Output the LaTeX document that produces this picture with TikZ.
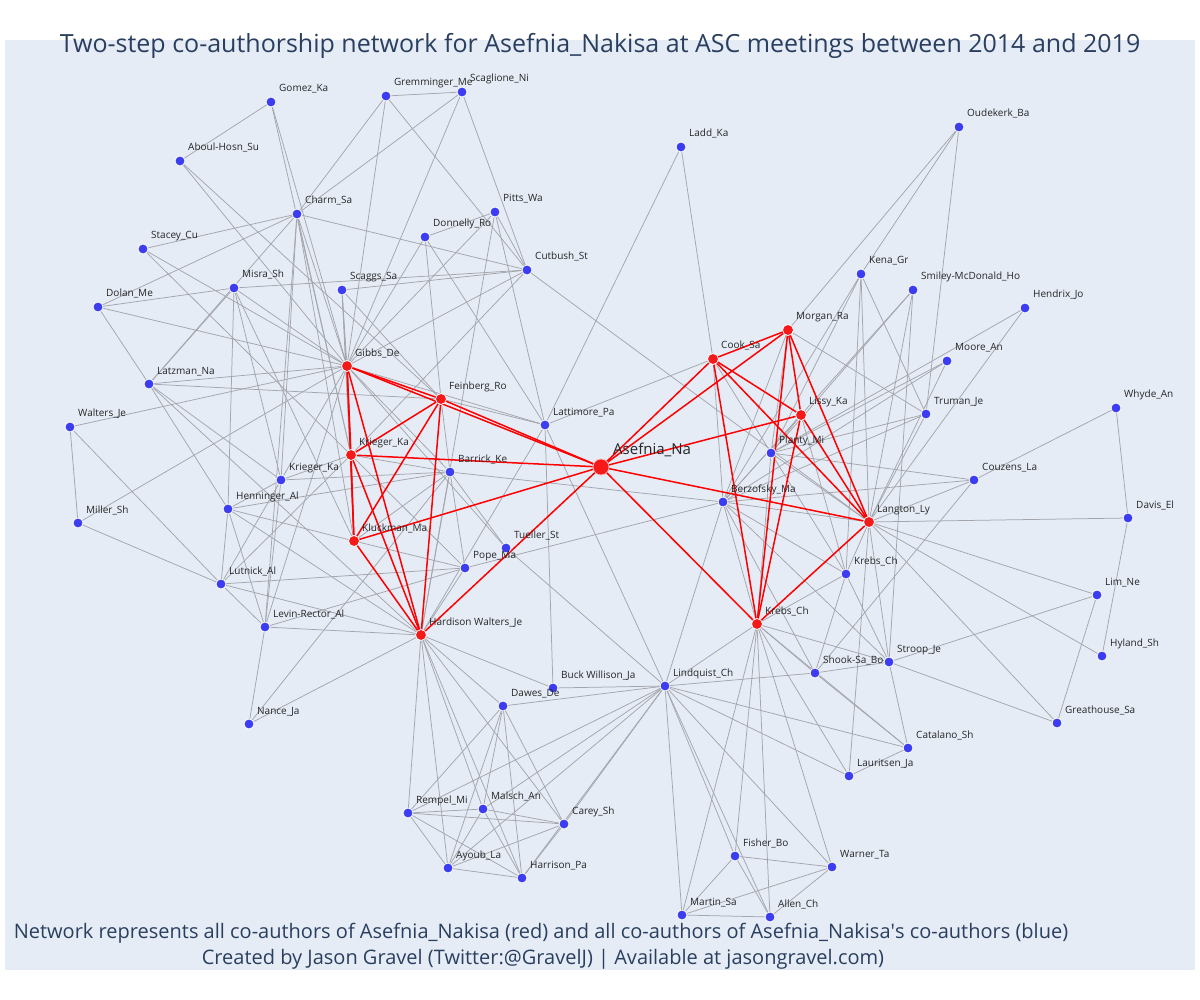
\documentclass[tikz,border=0pt]{standalone}
\usepackage{fontspec}
\setmainfont{Open Sans}
\pgfdeclarelayer{bglayer}
\pgfdeclarelayer{edgelayer}
\pgfsetlayers{bglayer,edgelayer,main}
\definecolor{plotbg}{HTML}{E5ECF6}
\definecolor{titlec}{HTML}{2A3F5F}
\definecolor{bluen}{RGB}{60,60,240}
\definecolor{redn}{RGB}{245,25,25}
\definecolor{edgec}{RGB}{165,165,172}
\tikzset{
  bnode/.style={circle,fill=bluen,draw=white,line width=0.8pt,minimum size=10pt,inner sep=0pt},
  rnode/.style={circle,fill=redn,draw=white,line width=0.8pt,minimum size=11pt,inner sep=0pt},
  bignode/.style={circle,fill=redn,draw=white!70!red,line width=0.8pt,minimum size=16pt,inner sep=0pt},
  lbl/.style={anchor=base west,inner sep=0pt,font=\fontsize{10}{12}\selectfont,text=black!85},
  gedge/.style={draw=edgec,line width=0.75pt},
  redge/.style={draw=red,line width=1.5pt},
}
\begin{document}
\begin{tikzpicture}[x=1pt,y=-1pt]
\useasboundingbox (0,0) rectangle (1200,1000);
\begin{pgfonlayer}{bglayer}
\fill[plotbg] (5,40) rectangle (1195,970);
\end{pgfonlayer}
% red nodes
\node[bignode] (A) at (601,467) {};
\node[lbl,font=\fontsize{15}{18}\selectfont] (A-l) at (613,454) {Asefnia\_Na};
\foreach \n/\x/\y/\t in {
 gib/347/366/Gibbs\_De, fei/441/399/Feinberg\_Ro, krr/351/455/Krieger\_Ka,
 klu/354/541/Kluckman\_Ma, har/421/635/Hardison Walters\_Je,
 coo/713/359/Cook\_Sa, mor/788/330/Morgan\_Ra, lis/801/415/Lissy\_Ka,
 lan/869/522/Langton\_Ly, kbr/757/624/Krebs\_Ch}{
 \node[rnode] (\n) at (\x,\y) {};
 \node[lbl] (\n-l) at ([shift={(8,-10)}]\n.center) {\t};
}
% blue nodes
\foreach \n/\x/\y/\t in {
 gom/271/102/Gomez\_Ka, gre/386/96/Gremminger\_Me, scg/462/92/Scaglione\_Ni,
 abo/180/161/Aboul-Hosn\_Su, cha/297/214/Charm\_Sa, pit/495/212/Pitts\_Wa,
 don/425/237/Donnelly\_Ro, sta/143/249/Stacey\_Cu, cut/527/270/Cutbush\_St,
 mis/234/288/Misra\_Sh, sgs/342/290/Scaggs\_Sa, dol/98/307/Dolan\_Me,
 ltz/149/384/Latzman\_Na, wal/70/427/Walters\_Je, ltt/545/425/Lattimore\_Pa,
 bar/450/472/Barrick\_Ke, kbl/281/480/Krieger\_Ka, hen/228/509/Henninger\_Al,
 mil/78/523/Miller\_Sh, tue/506/548/Tueller\_St, pop/465/568/Pope\_Ma,
 lut/221/584/Lutnick\_Al, lev/265/627/Levin-Rector\_Al, nan/249/724/Nance\_Ja,
 buc/553/688/Buck Willison\_Ja, daw/503/706/Dawes\_De, lin/665/686/Lindquist\_Ch,
 rem/408/813/Rempel\_Mi, mal/483/809/Malsch\_An, car/564/824/Carey\_Sh,
 ayo/448/868/Ayoub\_La, hrr/522/878/Harrison\_Pa, lad/681/147/Ladd\_Ka,
 oud/959/127/Oudekerk\_Ba, ken/861/274/Kena\_Gr, smi/913/290/Smiley-McDonald\_Ho,
 hdx/1025/308/Hendrix\_Jo, moo/947/361/Moore\_An, tru/926/414/Truman\_Je,
 pla/771/453/Planty\_Mi, ber/723/502/Berzofsky\_Ma, cou/974/480/Couzens\_La,
 why/1116/408/Whyde\_An, dav/1128/518/Davis\_El, kre/846/574/Krebs\_Ch,
 lim/1097/595/Lim\_Ne, hyl/1102/656/Hyland\_Sh, str/889/662/Stroop\_Je,
 sho/815/673/Shook-Sa\_Bo, grh/1057/723/Greathouse\_Sa, cat/908/748/Catalano\_Sh,
 lau/849/776/Lauritsen\_Ja, fis/735/856/Fisher\_Bo, war/832/867/Warner\_Ta,
 mar/682/915/Martin\_Sa, all/770/917/Allen\_Ch}{
 \node[bnode] (\n) at (\x,\y) {};
 \node[lbl] (\n-l) at ([shift={(8,-10)}]\n.center) {\t};
}
\begin{pgfonlayer}{edgelayer}
\foreach \a/\b in {
 gom/abo, gom/gib, gom/krr, gre/scg, gre/cha, gre/gib, gre/cut,
 scg/cha, scg/cut, scg/gib, abo/fei, abo/gib,
 cha/sta, cha/dol, cha/ltz, cha/cut, cha/lev, cha/gib, cha/krr, cha/kbl, cha/klu,
 pit/don, pit/cut, pit/har, pit/ltt, pit/gib, don/gib, don/fei, don/ltt,
 cut/sgs, cut/gib, cut/krr, cut/lan, cut/mis, sta/gib, sta/krr,
 mis/dol, mis/ltz, mis/gib, mis/hen, mis/kbl, mis/klu,
 sgs/gib, sgs/krr, sgs/klu, sgs/fei, dol/gib, dol/ltz,
 ltz/gib, ltz/fei, ltz/hen, ltz/kbl, ltz/har,
 wal/mil, wal/lut, wal/gib, mil/lut, mil/gib,
 hen/bar, hen/klu, hen/lut, hen/lev, hen/har, hen/kbl,
 kbl/gib, kbl/krr, kbl/bar, kbl/lut, kbl/lev,
 lut/pop, lut/lev, lut/har, lut/krr, lev/har, lev/nan, lev/pop, lev/gib,
 nan/har, nan/bar, bar/krr, bar/gib, bar/fei, bar/klu, bar/pop, bar/har, bar/tue, bar/ber,
 pop/klu, pop/krr, pop/har, pop/ber, tue/lin, tue/gib,
 ltt/lad, ltt/gib, ltt/fei, ltt/coo, ltt/buc, ltt/lin, ltt/har,
 lad/coo, buc/lin, buc/har, daw/har, daw/lin,
 rem/har, rem/daw, rem/lin, mal/har, mal/daw, mal/lin, car/har, car/daw, car/lin,
 ayo/har, ayo/daw, ayo/lin, hrr/har, hrr/daw, hrr/lin,
 rem/mal, rem/car, rem/ayo, rem/hrr, mal/car, mal/ayo, mal/hrr, car/ayo, car/hrr, ayo/hrr,
 fis/lin, fis/kbr, war/lin, war/kbr, mar/lin, mar/kbr, all/lin, all/kbr,
 fis/war, fis/mar, fis/all, war/mar, war/all, mar/all,
 oud/mor, oud/tru, oud/ken, ken/pla, ken/ber, ken/lan, ken/tru, ken/kre,
 smi/pla, smi/ber, smi/lan, smi/str, hdx/pla, hdx/lan, moo/pla, moo/ber, moo/lan,
 tru/mor, tru/pla, tru/ber, tru/lan,
 pla/lis, pla/coo, pla/mor, pla/lan, pla/kbr, pla/kre, pla/cou,
 ber/coo, ber/lis, ber/lan, ber/kbr, ber/kre, ber/cou, ber/str, ber/sho, ber/lin, ber/mor,
 cou/lan, cou/why, cou/sho, why/dav, dav/lan, dav/hyl,
 lim/lan, lim/grh, lim/str, hyl/lan, grh/lan, grh/str,
 kre/lan, kre/str, kre/sho, kre/kbr, kre/lis,
 sho/lin, sho/str, sho/kbr, sho/cat, str/lan, str/kbr, str/cat,
 cat/kbr, cat/lau, cat/lin, lau/kbr, lau/lin, lau/lan, lin/kbr}{
 \draw[gedge] (\a.center) -- (\b.center);
}
\foreach \a/\b in {
 A/gib, A/fei, A/krr, A/klu, A/har, A/coo, A/mor, A/lis, A/lan, A/kbr,
 gib/fei, gib/krr, gib/klu, gib/har, fei/krr, fei/klu, fei/har, krr/klu, krr/har, klu/har,
 coo/mor, coo/lis, coo/lan, coo/kbr, mor/lis, mor/lan, mor/kbr, lis/lan, lis/kbr, lan/kbr}{
 \draw[redge] (\a.center) -- (\b.center);
}
\end{pgfonlayer}
\node[font=\fontsize{25}{29}\selectfont,text=titlec,anchor=base] (title) at (600,53) {Two-step co-authorship network for Asefnia\_Nakisa at ASC meetings between 2014 and 2019};
\node[font=\fontsize{20}{24}\selectfont,text=titlec,anchor=base] (foot1) at (541,938) {Network represents all co-authors of Asefnia\_Nakisa (red) and all co-authors of Asefnia\_Nakisa\textquotesingle s co-authors (blue)};
\node[font=\fontsize{20}{24}\selectfont,text=titlec,anchor=base] (foot2) at (543,964) {Created by Jason Gravel (Twitter:@GravelJ) | Available at jasongravel.com)};
\end{tikzpicture}
\end{document}
